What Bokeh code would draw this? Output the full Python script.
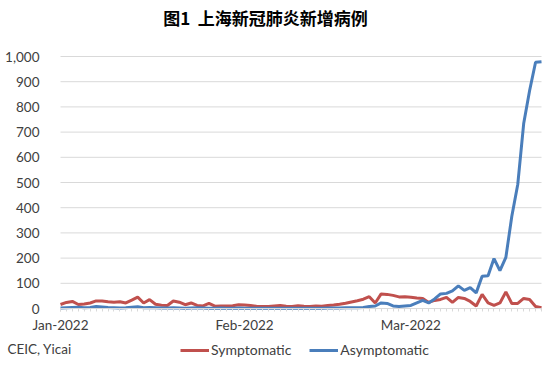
from datetime import datetime, timedelta
from bokeh.plotting import figure
from bokeh.models import (Range1d, FixedTicker, NumeralTickFormatter, Legend, LegendItem,
                          Label, DatetimeTickFormatter, ColumnDataSource)
from bokeh.embed import file_html
from bokeh.resources import INLINE

# ---------------- data ----------------
start_date = datetime(2022, 1, 1)
n_days = 82  # Jan 1 .. Mar 23, 2022
dates = [start_date + timedelta(days=i) for i in range(n_days)]

symptomatic = [
    # Jan
    16, 24, 28, 16, 18, 22, 30, 30, 27, 25, 27, 22, 33, 45, 22, 35, 17, 13, 12, 30,
    25, 15, 22, 12, 10, 20, 9, 10, 10, 11, 15,
    # Feb
    14, 12, 9, 8, 8, 10, 12, 9, 8, 11, 9, 8, 10, 9, 12, 14, 17, 21, 26, 31,
    37, 47, 22, 58, 56, 52, 46, 47,
    # Mar
    45, 42, 40, 24, 32, 36, 44, 24, 44, 40, 28, 10, 56, 22, 12, 22, 66, 20, 20, 40,
    36, 8, 3,
]

asymptomatic = [
    # Jan
    2, 3, 4, 5, 3, 4, 8, 6, 4, 3, 2, 3, 5, 7, 3, 4, 3, 2, 2, 3,
    2, 1, 2, 3, 2, 1, 1, 2, 1, 1, 2,
    # Feb
    1, 1, 1, 1, 1, 1, 1, 1, 1, 1, 1, 1, 1, 1, 2, 2, 2, 3, 3, 3,
    4, 8, 10, 22, 20, 10, 8, 10,
    # Mar
    12, 22, 32, 22, 38, 58, 60, 70, 90, 72, 83, 62, 128, 130, 198, 150, 203, 366, 492, 734,
    865, 977, 979,
]

y_ticks = [0, 100, 200, 300, 400, 500, 600, 700, 800, 900, 1000]
x_major_ticks = [datetime(2022, 1, 1), datetime(2022, 2, 1), datetime(2022, 3, 1)]

title_text = "图1\u00a0\u00a0上海新冠肺炎新增病例"
source_text = "CEIC, Yicai"
series_names = ["Symptomatic", "Asymptomatic"]
series_colors = ["#C0504D", "#4A7EBB"]

# ---------------- layout constants (pixels) ----------------
W, H = 551, 365
PLOT_L, PLOT_R = 60, 541      # x pixel of first / last date
PLOT_Y0, PLOT_Y1000 = 308, 56  # y pixel of value 0 / 1000

def ms(d):
    return (d - datetime(1970, 1, 1)).total_seconds() * 1000.0

px_per_day = (PLOT_R - PLOT_L) / (n_days - 1)
x_start = dates[0] - timedelta(days=PLOT_L / px_per_day)
x_end = dates[-1] + timedelta(days=(W - PLOT_R) / px_per_day)
px_per_unit = (PLOT_Y0 - PLOT_Y1000) / 1000.0
y_start = -(H - PLOT_Y0) / px_per_unit
y_end = 1000 + PLOT_Y1000 / px_per_unit

src = ColumnDataSource(dict(date=dates, sym=symptomatic, asym=asymptomatic))

p = figure(width=W, height=H, output_backend="svg", toolbar_location=None,
           x_axis_type="datetime",
           x_range=Range1d(x_start, x_end),
           y_range=Range1d(y_start, y_end),
           min_border=0, min_border_left=0, min_border_right=0,
           min_border_top=0, min_border_bottom=0)
p.outline_line_color = None
p.background_fill_color = "white"
p.border_fill_color = "white"
p.xgrid.visible = False
p.ygrid.visible = False

GRID = "#D9D9D9"
TXT = "#404040"
FONT = "Lato"

# horizontal gridlines spanning the date extent
grid_y = y_ticks[1:]
p.segment(x0=[dates[0]] * len(grid_y), x1=[dates[-1]] * len(grid_y),
          y0=grid_y, y1=grid_y, line_color=GRID, line_width=1)

r1 = p.line("date", "sym", source=src, line_color=series_colors[0], line_width=3)
r2 = p.line("date", "asym", source=src, line_color=series_colors[1], line_width=3)

# x axis at y = 0
xa = p.xaxis[0]
xa.fixed_location = 0
xa.bounds = (ms(dates[0]), ms(dates[-1]))
xa.ticker = FixedTicker(ticks=[ms(d) for d in x_major_ticks],
                        minor_ticks=[ms(d) for d in dates])
fmt = "%b-%Y"
xa.formatter = DatetimeTickFormatter(milliseconds=fmt, seconds=fmt, minsec=fmt, minutes=fmt,
                                     hourmin=fmt, hours=fmt, days=fmt, months=fmt, years=fmt)
xa.axis_line_color = GRID
xa.major_tick_line_color = GRID
xa.minor_tick_line_color = GRID
xa.major_tick_in = 0
xa.major_tick_out = 3
xa.minor_tick_in = 0
xa.minor_tick_out = 3
xa.major_label_standoff = 5
xa.major_label_text_font = FONT
xa.major_label_text_font_size = "13.5px"
xa.major_label_text_color = TXT

# y axis at first date
ya = p.yaxis[0]
ya.fixed_location = ms(dates[0])
ya.ticker = FixedTicker(ticks=y_ticks)
ya.formatter = NumeralTickFormatter(format="0,0")
ya.axis_line_color = None
ya.major_tick_line_color = None
ya.minor_tick_line_color = None
ya.major_label_standoff = 15
ya.major_label_text_font = FONT
ya.major_label_text_font_size = "13.5px"
ya.major_label_text_color = TXT

# legend
legend = Legend(items=[LegendItem(label=series_names[0], renderers=[r1]),
                       LegendItem(label=series_names[1], renderers=[r2])],
                orientation="horizontal", location=(180, 7))
legend.glyph_width = 29
legend.glyph_height = 14
legend.label_standoff = 2
legend.spacing = 18
legend.padding = 3
legend.margin = 0
legend.border_line_color = None
legend.background_fill_alpha = 0
legend.label_text_font = FONT
legend.label_text_font_size = "14px"
legend.label_text_color = TXT
p.add_layout(legend)

# title and source (screen px from the bottom-left corner)
title = Label(x=265, y=H - 17, x_units="screen", y_units="screen", text=title_text,
              text_align="center", text_baseline="middle",
              text_font="Noto Sans CJK SC", text_font_style="bold",
              text_font_size="17px", text_color="#000000")
p.add_layout(title)

src_lbl = Label(x=7, y=H - 348, x_units="screen", y_units="screen", text=source_text,
                text_align="left", text_baseline="middle",
                text_font=FONT, text_font_size="13.5px", text_color=TXT)
p.add_layout(src_lbl)

open("out.html", "w").write(file_html(p, INLINE))
